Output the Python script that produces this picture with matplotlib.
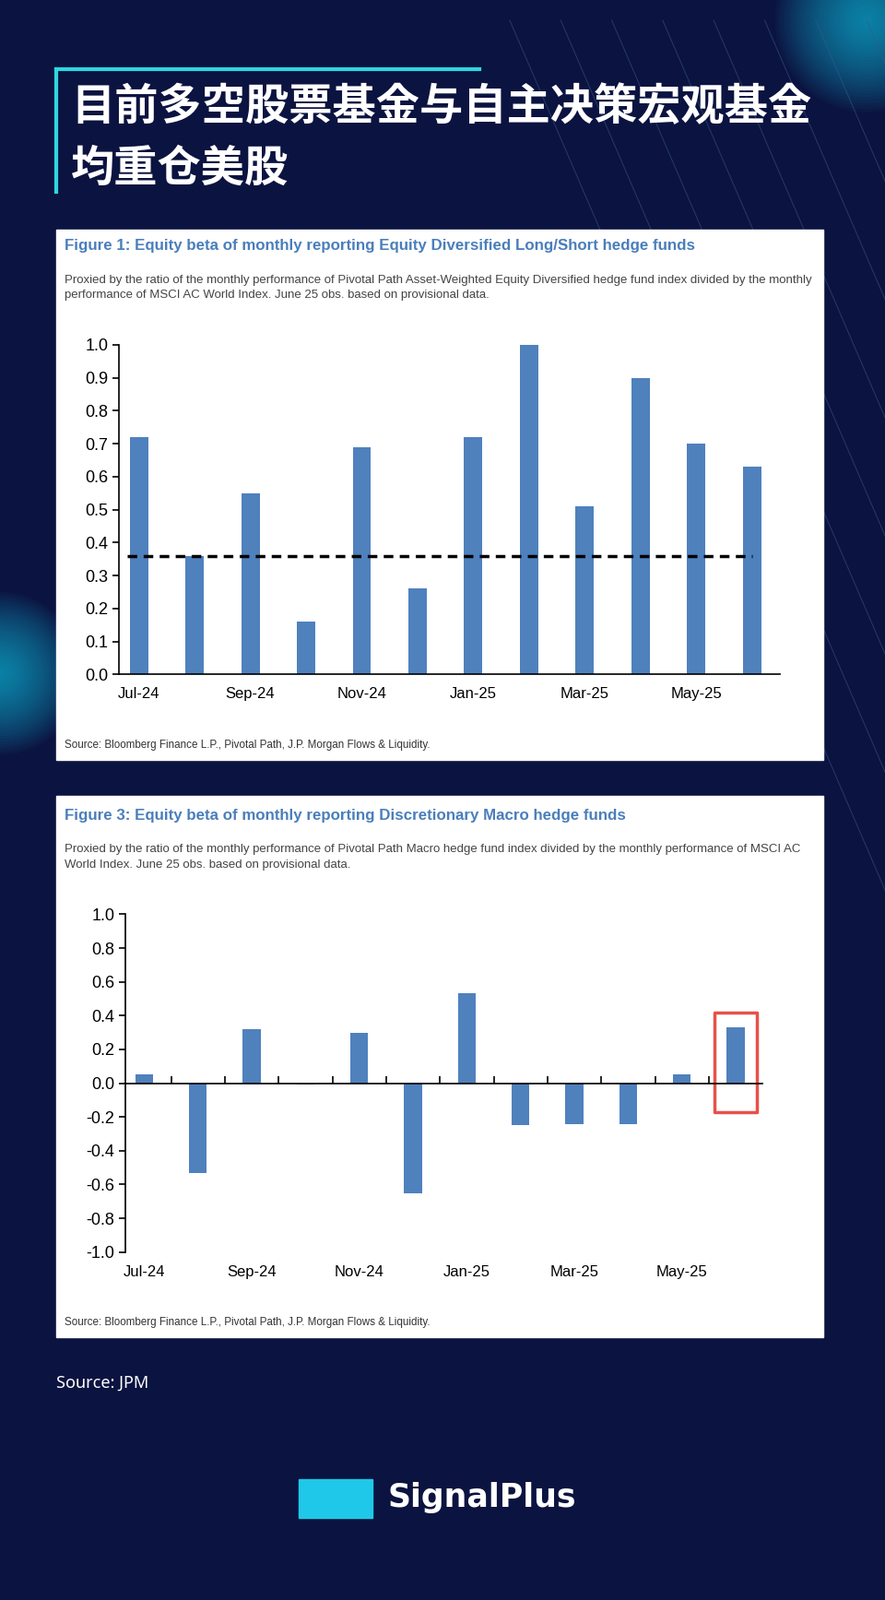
import numpy as np
import matplotlib.pyplot as plt
from matplotlib.patches import Rectangle

months = ["Jul-24", "Aug-24", "Sep-24", "Oct-24", "Nov-24", "Dec-24",
          "Jan-25", "Feb-25", "Mar-25", "Apr-25", "May-25", "Jun-25"]
ls_beta = [0.72, 0.36, 0.55, 0.16, 0.69, 0.26, 0.72, 1.00, 0.51, 0.90, 0.70, 0.63]
ls_avg = 0.36
macro_beta = [0.05, -0.53, 0.32, -0.01, 0.30, -0.65, 0.53, -0.25, -0.24, -0.24, 0.05, 0.33]

W, H = 868.0, 1568.0
BG = "#0b1340"
BLUE = "#4f81bd"
TBLUE = "#4a7ebb"
CJK = ["Noto Sans CJK SC", "Noto Sans CJK JP", "Noto Sans CJK TC", "Noto Sans CJK KR"]

def fx(x): return x / W
def fy(y): return 1 - y / H

fig = plt.figure(figsize=(9.6, 17.35), dpi=100, facecolor=BG)
bg = fig.add_axes([0, 0, 1, 1]); bg.set_xlim(0, W); bg.set_ylim(H, 0); bg.axis("off")

# glows
for cx, cy, r in [(850, 20, 90), (0, 660, 80)]:
    for k in range(30):
        rr = r * (1 - k / 30)
        bg.add_patch(plt.Circle((cx, cy), rr, color="#1fc8e8", alpha=0.035, lw=0))
# diagonal decoration
for x0 in range(500, 900, 50):
    bg.plot([x0, x0 + 380], [20, 900], color="#3a5a8a", lw=0.8, alpha=0.5, zorder=1)

# title
bg.plot([55, 470], [68, 68], color="#2fd6e0", lw=3)
bg.plot([55, 55], [68, 188], color="#2fd6e0", lw=3)
fig.text(fx(70), fy(105), "目前多空股票基金与自主决策宏观基金", color="white",
         fontsize=34, fontweight="bold", family=CJK, va="center")
fig.text(fx(70), fy(165), "均重仓美股", color="white",
         fontsize=34, fontweight="bold", family=CJK, va="center")

# panels
for (y0, y1) in [(225, 745), (780, 1310)]:
    bg.add_patch(Rectangle((55, y0), 752, y1 - y0, color="white", zorder=5))

ff = "Liberation Sans"
fig.text(fx(63), fy(241), "Figure 1: Equity beta of monthly reporting Equity Diversified Long/Short hedge funds",
         color=TBLUE, fontsize=12.2, fontweight="bold", family=ff, va="center")
fig.text(fx(63), fy(282), "Proxied by the ratio of the monthly performance of Pivotal Path Asset-Weighted Equity Diversified hedge fund index divided by the monthly\nperformance of MSCI AC World Index. June 25 obs. based on provisional data.",
         color="#444", fontsize=9.5, family=ff, va="center", linespacing=1.5)
fig.text(fx(63), fy(730), "Source: Bloomberg Finance L.P., Pivotal Path, J.P. Morgan Flows & Liquidity.",
         color="#333", fontsize=8.4, family=ff, va="center")

fig.text(fx(63), fy(799), "Figure 3: Equity beta of monthly reporting Discretionary Macro hedge funds",
         color=TBLUE, fontsize=12.2, fontweight="bold", family=ff, va="center")
fig.text(fx(63), fy(840), "Proxied by the ratio of the monthly performance of Pivotal Path Macro hedge fund index divided by the monthly performance of MSCI AC\nWorld Index. June 25 obs. based on provisional data.",
         color="#444", fontsize=9.5, family=ff, va="center", linespacing=1.5)
fig.text(fx(63), fy(1296), "Source: Bloomberg Finance L.P., Pivotal Path, J.P. Morgan Flows & Liquidity.",
         color="#333", fontsize=8.4, family=ff, va="center")

x = np.arange(len(months))

def style(ax):
    ax.set_facecolor("none")
    for s in ["top", "right"]:
        ax.spines[s].set_visible(False)
    ax.spines["left"].set_linewidth(1.2)
    ax.spines["bottom"].set_linewidth(1.2)
    ax.tick_params(axis="y", labelsize=13, length=5, width=1.2)
    ax.tick_params(axis="x", length=0, labelsize=12, pad=10)
    for t in ax.get_yticklabels() + ax.get_xticklabels():
        t.set_family(ff)
    ax.set_xlim(-0.35, 11.5)

# chart 1
ax1 = fig.add_axes([fx(117), fy(661), fx(765) - fx(117), fy(338) - fy(661)])
ax1.bar(x, ls_beta, width=0.33, color=BLUE, lw=0)
ax1.plot([-0.2, 11], [ls_avg, ls_avg], "k--", lw=2.5, dashes=(3, 2))
ax1.set_ylim(0, 1.0)
yt1 = np.round(np.arange(0, 1.01, 0.1), 1)
ax1.set_yticks(yt1)
ax1.set_yticklabels([f"{v:.1f}" for v in yt1])
ax1.set_xticks(x[::2])
ax1.set_xticklabels(months[::2])
style(ax1)

# chart 2
ax2 = fig.add_axes([fx(123), fy(1227), fx(748) - fx(123), fy(896) - fy(1227)])
ax2.bar(x, macro_beta, width=0.33, color=BLUE, lw=0)
ax2.set_ylim(-1.0, 1.0)
yt2 = np.round(np.arange(-1.0, 1.01, 0.2), 1) + 0.0
ax2.set_yticks(yt2)
ax2.set_yticklabels([f"{abs(v):.1f}" if abs(v) < 1e-9 else f"{v:.1f}" for v in yt2])
ax2.spines["bottom"].set_position(("data", 0))
style(ax2)
ax2.set_xticks(x[1:] - 0.5)
ax2.set_xticklabels([])
ax2.tick_params(axis="x", length=6, width=1.2, direction="in")
for i in range(0, 12, 2):
    ax2.text(i, -1.12, months[i], ha="center", va="center", fontsize=12, family=ff)
ax2.add_patch(Rectangle((10.6, -0.17), 0.8, 0.59, fill=False, ec="#e8504a", lw=2.5,
                        clip_on=False, joinstyle="round"))

# footer
fig.text(fx(55), fy(1355), "Source: JPM", color="white", fontsize=13, family="Noto Sans", va="center")
bg.add_patch(Rectangle((293, 1450), 72, 38, color="#1fc8e8"))
fig.text(fx(380), fy(1468), "SignalPlus", color="white", fontsize=25, fontweight="bold",
         family="DejaVu Sans", va="center")

fig.savefig("out.png", dpi=100, facecolor=BG)
